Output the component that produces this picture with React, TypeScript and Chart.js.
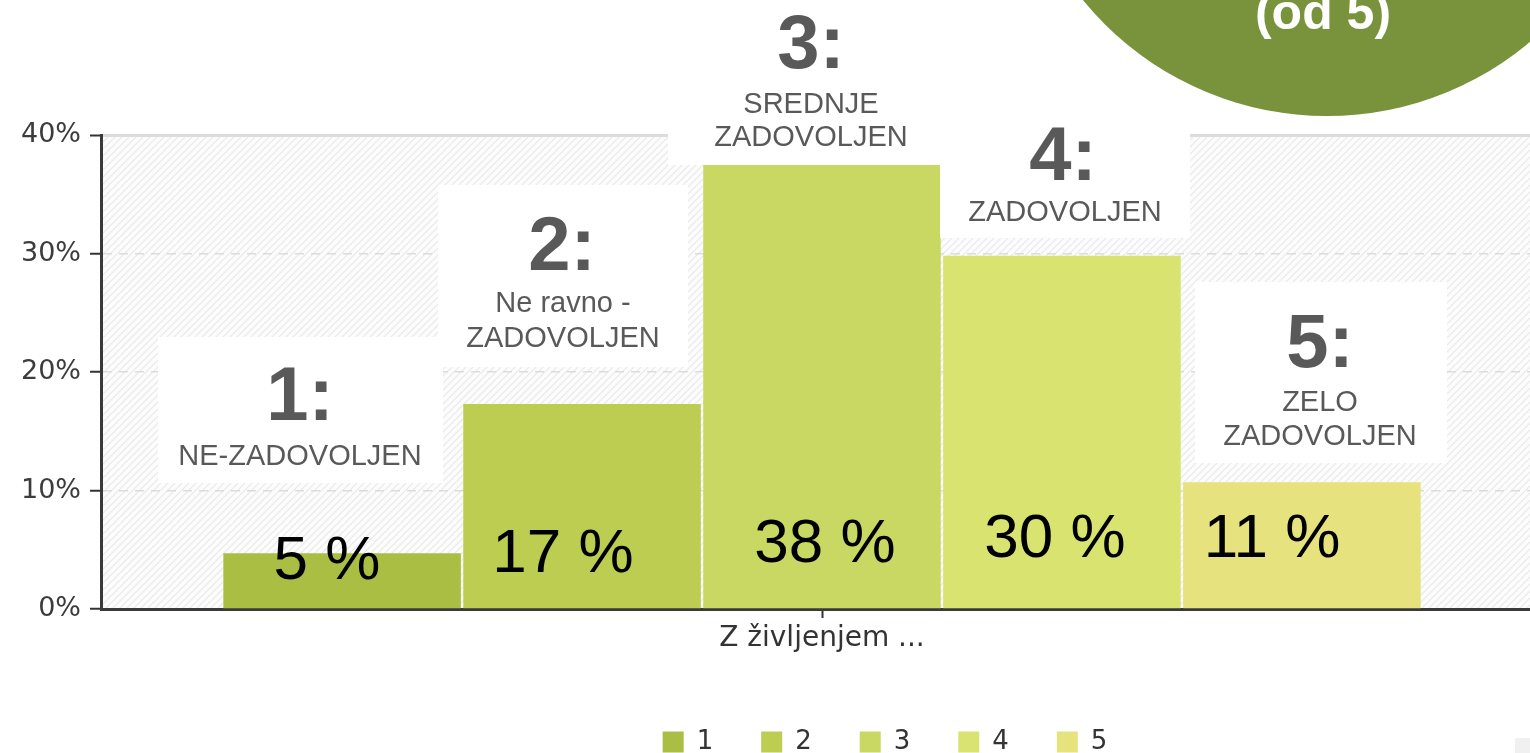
import React, { useEffect, useRef } from 'react';
import { Chart, registerables } from 'chart.js';

Chart.register(...registerables);

// ---- data ----
const categories = ['Z življenjem ...'];
const seriesNames = ['1', '2', '3', '4', '5'];
const values1 = [4.7];
const values2 = [17.3];
const values3 = [38];
const values4 = [29.8];
const values5 = [10.7];
const yTickValues = [0, 10, 20, 30, 40];
const percentLabels = ['5 %', '17 %', '38 %', '30 %', '11 %'];
const boxTitles = ['1:', '2:', '3:', '4:', '5:'];
const boxTexts = [['NE-ZADOVOLJEN'], ['Ne ravno -', 'ZADOVOLJEN'], ['SREDNJE', 'ZADOVOLJEN'], ['ZADOVOLJEN'], ['ZELO', 'ZADOVOLJEN']];
const badgeText = '(od 5)';

const seriesColors = ['#abbe44', '#bccd52', '#c9d862', '#d8e46f', '#e6e27e'];

const hatchPlugin = {
  id: 'hatch',
  beforeDraw(chart: any) {
    const { ctx, chartArea: a } = chart;
    if (!a) return;
    const s = 7;
    const p = document.createElement('canvas');
    p.width = s; p.height = s;
    const pc = p.getContext('2d')!;
    pc.fillStyle = '#fcfcfc';
    pc.fillRect(0, 0, s, s);
    pc.strokeStyle = '#e9e9e9';
    pc.lineWidth = 1.2;
    pc.beginPath();
    pc.moveTo(0, s); pc.lineTo(s, 0);
    pc.moveTo(-1, 1); pc.lineTo(1, -1);
    pc.moveTo(s - 1, s + 1); pc.lineTo(s + 1, s - 1);
    pc.stroke();
    const pat = ctx.createPattern(p, 'repeat');
    ctx.save();
    ctx.fillStyle = pat;
    ctx.fillRect(a.left, a.top, a.right - a.left, a.bottom - a.top);
    ctx.restore();
  },
};

const legendShift = {
  id: 'legendShift',
  afterLayout(chart: any) {
    const lg = chart.legend;
    if (!lg) return;
    const dx = 885 - (lg.left + lg.right) / 2;
    lg.left += dx;
    lg.right += dx;
  },
};

export default function App() {
  const ref = useRef<HTMLCanvasElement>(null);

  useEffect(() => {
    if (!ref.current) return;
    const allValues = [values1, values2, values3, values4, values5];
    const chart = new Chart(ref.current, {
      type: 'bar',
      data: {
        labels: categories,
        datasets: seriesNames.map((name, i) => ({
          label: name,
          data: allValues[i],
          backgroundColor: seriesColors[i],
          borderWidth: 0,
          categoryPercentage: 0.832,
          barPercentage: 0.99,
        })),
      },
      options: {
        animation: false,
        responsive: false,
        devicePixelRatio: 1,
        layout: { padding: { top: 135, left: 0, right: 0, bottom: 0 } },
        plugins: {
          tooltip: { enabled: false },
          legend: {
            position: 'bottom',
            labels: {
              boxWidth: 21,
              boxHeight: 21,
              padding: 48,
              color: '#333',
              font: { family: 'DejaVu Sans', size: 26 },
            },
          },
        },
        scales: {
          x: {
            afterFit: (s: any) => { s.height = 72; },
            grid: {
              display: true,
              drawOnChartArea: false,
              offset: false,
              tickLength: 9,
              tickColor: '#333',
              tickWidth: 2,
            },
            border: { display: true, color: '#3a3a3a', width: 3 },
            ticks: { color: '#333', padding: 4, font: { family: 'DejaVu Sans', size: 28 } },
          },
          y: {
            min: 0,
            max: 40,
            afterFit: (s: any) => { s.width = 101; },
            afterBuildTicks: (s: any) => { s.ticks = yTickValues.map((v) => ({ value: v })); },
            grid: {
              color: (c: any) => (c.tick && c.tick.value === 0 ? 'rgba(0,0,0,0)' : '#dcdcdc'),
              lineWidth: (c: any) => (c.tick && c.tick.value === 40 ? 3 : 1.5),
              tickLength: 11,
              tickColor: '#333',
              tickWidth: 2,
            },
            border: {
              display: true,
              color: '#3a3a3a',
              width: 3,
              dash: (c: any) => (c.tick && c.tick.value === 40 ? [] : [9, 7]),
            },
            ticks: {
              color: '#3c3c3c',
              padding: 9,
              font: { family: 'DejaVu Sans', size: 27 },
              callback: (v: any) => v + '%',
            },
          },
        },
      },
      plugins: [hatchPlugin, legendShift],
    } as any);
    return () => chart.destroy();
  }, []);

  const titleX = [300, 562, 811, 1063, 1320];
  const titleY = [420, 270, 68, 180, 367];
  const textX = [300, 563, 811, 1065, 1320];
  const textY = [[465], [312, 347], [113, 146], [221], [411, 445]];
  const boxes = [
    [158, 337, 285, 146],
    [438, 185, 250, 182],
    [668, 0, 272, 165],
    [940, 110, 250, 128],
    [1195, 282, 252, 181],
  ];
  const pctX = [327, 563, 825, 1055, 1272];
  const pctY = [579, 572, 562, 557, 557];
  const font = '"Liberation Sans", Arial, sans-serif';

  return (
    <div style={{ position: 'absolute', left: 0, top: 0, width: 1530, height: 753, overflow: 'hidden', background: '#fff' }}>
      <canvas ref={ref} width={1543} height={765} style={{ position: 'absolute', left: 0, top: 0 }} />
      <svg width={1530} height={753} style={{ position: 'absolute', left: 0, top: 0, pointerEvents: 'none' }}>
        <circle cx={1327} cy={-199} r={315} fill="#78933c" />
        <text x={1323} y={29} textAnchor="middle" fill="#fff" fontFamily={font} fontWeight="bold" fontSize={50}>{badgeText}</text>
        {boxes.map((b, i) => (
          <rect key={'b' + i} x={b[0]} y={b[1]} width={b[2]} height={b[3]} fill="#fff" />
        ))}
        {boxTitles.map((t, i) => (
          <text key={'t' + i} x={titleX[i]} y={titleY[i]} textAnchor="middle" fill="#595959" fontFamily={font} fontWeight="bold" fontSize={76}>{t}</text>
        ))}
        {boxTexts.map((lines, i) =>
          lines.map((l, j) => (
            <text key={'l' + i + '_' + j} x={textX[i]} y={textY[i][j]} textAnchor="middle" fill="#595959" fontFamily={font} fontSize={29}>{l}</text>
          ))
        )}
        {percentLabels.map((p, i) => (
          <text key={'p' + i} x={pctX[i]} y={pctY[i]} textAnchor="middle" fill="#000" fontFamily={font} fontSize={62}>{p}</text>
        ))}
        <rect x={1515} y={738} width={15} height={15} fill="#f0f0f0" />
      </svg>
    </div>
  );
}
